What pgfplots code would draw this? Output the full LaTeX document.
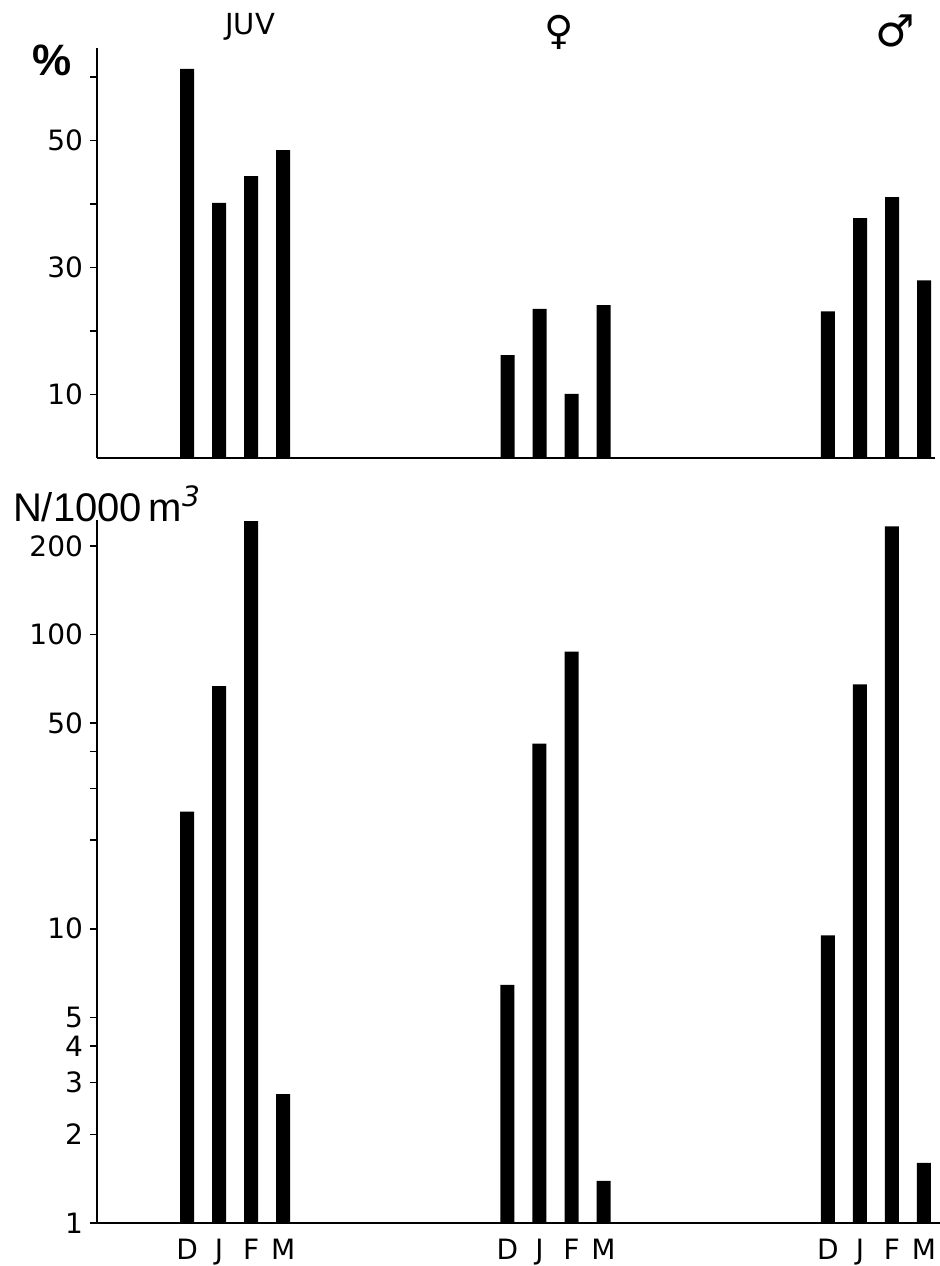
\documentclass[border=0pt]{standalone}
\usepackage{fontspec}
\setmainfont{DejaVu Sans}
\newfontfamily\lib{Liberation Sans}
\usepackage{pgfplots}
\pgfplotsset{compat=1.18}
\begin{document}
\begin{tikzpicture}
\pgfplotsset{
  common/.style={
    scale only axis,
    axis x line=bottom, axis y line=left,
    axis line style={-, line width=1pt},
    xmin=-2.81,
    xtick style={draw=none},
    tick align=outside,
    major tick length=3.5pt,
    ytick style={line width=0.8pt, black},
    /pgf/number format/assume math mode=true,
    tick label style={font=\fontsize{14}{14}\selectfont},
    ybar, bar width=7pt,
    clip=false,
  },
}
% ---------- top panel: percentage ----------
\begin{axis}[common, name=top, at={(0,0)}, anchor=south west,
  width=419pt, height=205pt,
  xmax=23.34, ymin=0, ymax=64.6,
  xtick=\empty,
  ytick={10,20,30,40,50,60},
  yticklabels={10,,30,,50,},
]
\addplot[fill=black, draw=none] coordinates {
 (0,61.3) (1,40.2) (2,44.4) (3,48.5)
 (10,16.2) (11,23.5) (12,10.1) (13,24.1)
 (20,23.1) (21,37.8) (22,41.1) (23,28.0)};
\node[font=\fontsize{14.5}{14.5}\selectfont] at (axis cs:1.97,68.0) {JUV};
\node[font=\fontsize{20}{20}\selectfont] at (axis cs:11.6,67.0) {♀};
\node[font=\fontsize{22}{22}\selectfont] at (axis cs:22.1,67.3) {♂};
\node[font=\lib\bfseries\fontsize{22}{22}\selectfont] at (axis cs:-4.2,62.6) {\%};
\end{axis}
% ---------- bottom panel: density ----------
\begin{axis}[common, at={(0,-31pt)}, anchor=north west,
  width=421.5pt, height=351.5pt,
  xmax=23.5, ymode=log, ymin=1, ymax=245,
  log origin=infty,
  xtick={0,1,2,3,10,11,12,13,20,21,22,23},
  xticklabels={D,J,F,M,D,J,F,M,D,J,F,M},
  xticklabel style={yshift=-1pt},
  ytick={1,2,3,4,5,10,20,30,40,50,100,200},
  yticklabels={1,2,3,4,5,10,,,,50,100,200},
  minor ytick={},
  log basis y=10,
]
\addplot[fill=black, draw=none] coordinates {
 (0,25) (1,66.8) (2,243) (3,2.74)
 (10,6.45) (11,42.6) (12,87.5) (13,1.39)
 (20,9.5) (21,67.7) (22,233) (23,1.6)};
\node[anchor=base west, font=\lib\fontsize{20}{20}\selectfont, inner sep=0pt]
  at (rel axis cs:-0.1,0.998) {N/1000\,m$^{\mathit{3}}$};
\end{axis}
\pgfresetboundingbox
\path (-48.5pt,229pt) rectangle (421.5pt,-404pt);
\end{tikzpicture}
\end{document}
